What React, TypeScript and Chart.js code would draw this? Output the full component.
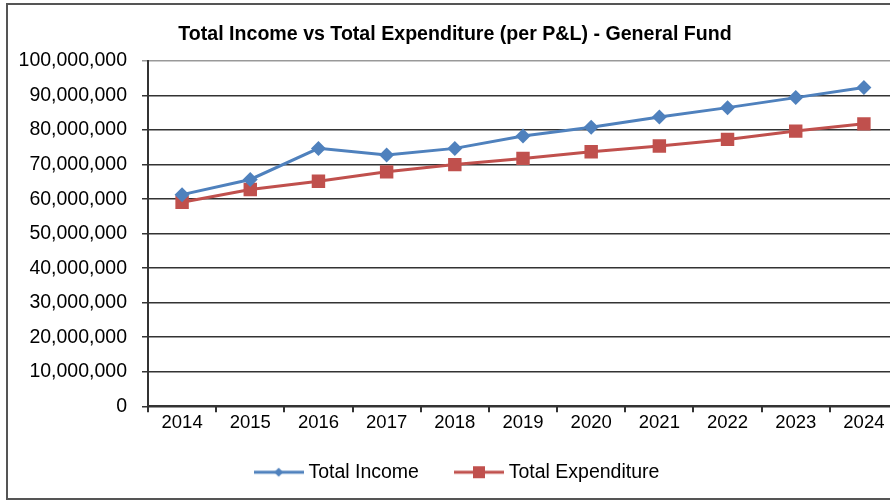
import React, { useEffect, useRef } from "react";
import { Chart, registerables } from "chart.js";

Chart.register(...registerables);

const years = ["2014", "2015", "2016", "2017", "2018", "2019", "2020", "2021", "2022", "2023", "2024"];
const totalIncome = [61.3e6, 65.7e6, 74.7e6, 72.8e6, 74.7e6, 78.3e6, 80.8e6, 83.8e6, 86.5e6, 89.4e6, 92.3e6];
const totalExpenditure = [59.1e6, 62.8e6, 65.2e6, 67.9e6, 70.0e6, 71.8e6, 73.7e6, 75.4e6, 77.3e6, 79.7e6, 81.8e6];
const yTicks = [0, 10e6, 20e6, 30e6, 40e6, 50e6, 60e6, 70e6, 80e6, 90e6, 100e6];

const BLUE = "#4F81BD";
const RED = "#C0504D";
const FONT = "'Liberation Sans', Arial, sans-serif";

function makeIcon(color: string, shape: "diamond" | "square"): HTMLCanvasElement {
  const c = document.createElement("canvas");
  c.width = 50;
  c.height = 14;
  const ctx = c.getContext("2d")!;
  ctx.strokeStyle = color;
  ctx.lineWidth = 3;
  ctx.beginPath();
  ctx.moveTo(0, 7);
  ctx.lineTo(50, 7);
  ctx.stroke();
  ctx.fillStyle = color;
  if (shape === "diamond") {
    ctx.beginPath();
    ctx.moveTo(25, 2.5);
    ctx.lineTo(29.5, 7);
    ctx.lineTo(25, 11.5);
    ctx.lineTo(20.5, 7);
    ctx.closePath();
    ctx.fill();
  } else {
    ctx.fillRect(19, 1, 12, 12);
  }
  return c;
}

const legendNudge = {
  id: "legendNudge",
  afterLayout(chart: any) {
    const l = chart.legend;
    if (l) {
      l.left += 4;
      l.right += 4;
    }
  },
};

export default function App() {
  const ref = useRef<HTMLCanvasElement | null>(null);

  useEffect(() => {
    if (!ref.current) return;
    const icons = [makeIcon(BLUE, "diamond"), makeIcon(RED, "square")];
    const chart = new Chart(ref.current, {
      type: "line",
      plugins: [legendNudge],
      data: {
        labels: years,
        datasets: [
          {
            label: "Total Income",
            data: totalIncome,
            borderColor: BLUE,
            backgroundColor: BLUE,
            borderWidth: 3,
            pointStyle: "rectRot",
            pointRadius: 7.5,
            pointBorderWidth: 0,
            tension: 0,
          },
          {
            label: "Total Expenditure",
            data: totalExpenditure,
            borderColor: RED,
            backgroundColor: RED,
            borderWidth: 3,
            pointStyle: "rect",
            pointRadius: 9.5,
            pointBorderWidth: 0,
            tension: 0,
          },
        ],
      },
      options: {
        responsive: false,
        animation: false,
        layout: { padding: { left: 12, right: 12, top: 0, bottom: 12 } },
        plugins: {
          title: {
            display: true,
            text: "Total Income vs Total Expenditure (per P&L) - General Fund",
            color: "#000",
            font: { family: FONT, size: 19.6, weight: "bold", lineHeight: 1.2 },
            padding: { top: 23, bottom: 14.5 },
          },
          legend: {
            position: "bottom",
            title: {
              display: true,
              text: "",
              font: { family: FONT, size: 1, lineHeight: 1 },
              padding: { top: -13, bottom: 0 },
            },
            labels: {
              color: "#000",
              font: { family: FONT, size: 19.5 },
              usePointStyle: true,
              pointStyleWidth: 40,
              padding: 40,
              generateLabels: (ch: any) =>
                ch.data.datasets.map((ds: any, i: number) => ({
                  text: ds.label,
                  fillStyle: ds.borderColor,
                  strokeStyle: ds.borderColor,
                  lineWidth: 0,
                  pointStyle: icons[i],
                  hidden: false,
                  datasetIndex: i,
                  fontColor: "#000",
                })),
            },
          },
          tooltip: { enabled: false },
        },
        scales: {
          x: {
            offset: true,
            border: { display: true, color: "#333", width: 2 },
            grid: {
              offset: true,
              drawOnChartArea: false,
              drawTicks: true,
              tickLength: 6,
              color: "#333",
              lineWidth: 2,
            },
            ticks: {
              color: "#000",
              font: { family: FONT, size: 18.5 },
              padding: 0,
              maxRotation: 0,
            },
          },
          y: {
            min: 0,
            max: 100e6,
            afterBuildTicks: (scale: any) => {
              scale.ticks = yTicks.map((v) => ({ value: v }));
            },
            afterFit: (scale: any) => {
              scale.width = 136;
            },
            border: { display: true, color: "#333", width: 2 },
            grid: {
              drawTicks: true,
              tickLength: 6,
              color: (ctx: any) => (ctx.tick && ctx.tick.value === 100e6 ? "#999" : "#333"),
              lineWidth: 1.5,
            },
            ticks: {
              color: "#000",
              font: { family: FONT, size: 19.5 },
              padding: 15,
              callback: (v: any) => Number(v).toLocaleString("en-US"),
            },
          },
        },
      },
    });
    return () => chart.destroy();
  }, []);

  return (
    <div
      style={{
        position: "fixed",
        left: 0,
        top: 0,
        width: 890,
        height: 504,
        overflow: "hidden",
        background: "#fff",
      }}
    >
      <div
        style={{
          position: "absolute",
          left: 6,
          top: 3,
          width: 1000,
          height: 497,
          border: "2px solid #555",
          boxSizing: "border-box",
        }}
      />
      <canvas
        ref={ref}
        width={910}
        height={504}
        style={{ position: "absolute", left: 0, top: 0, width: 910, height: 504 }}
      />
    </div>
  );
}
